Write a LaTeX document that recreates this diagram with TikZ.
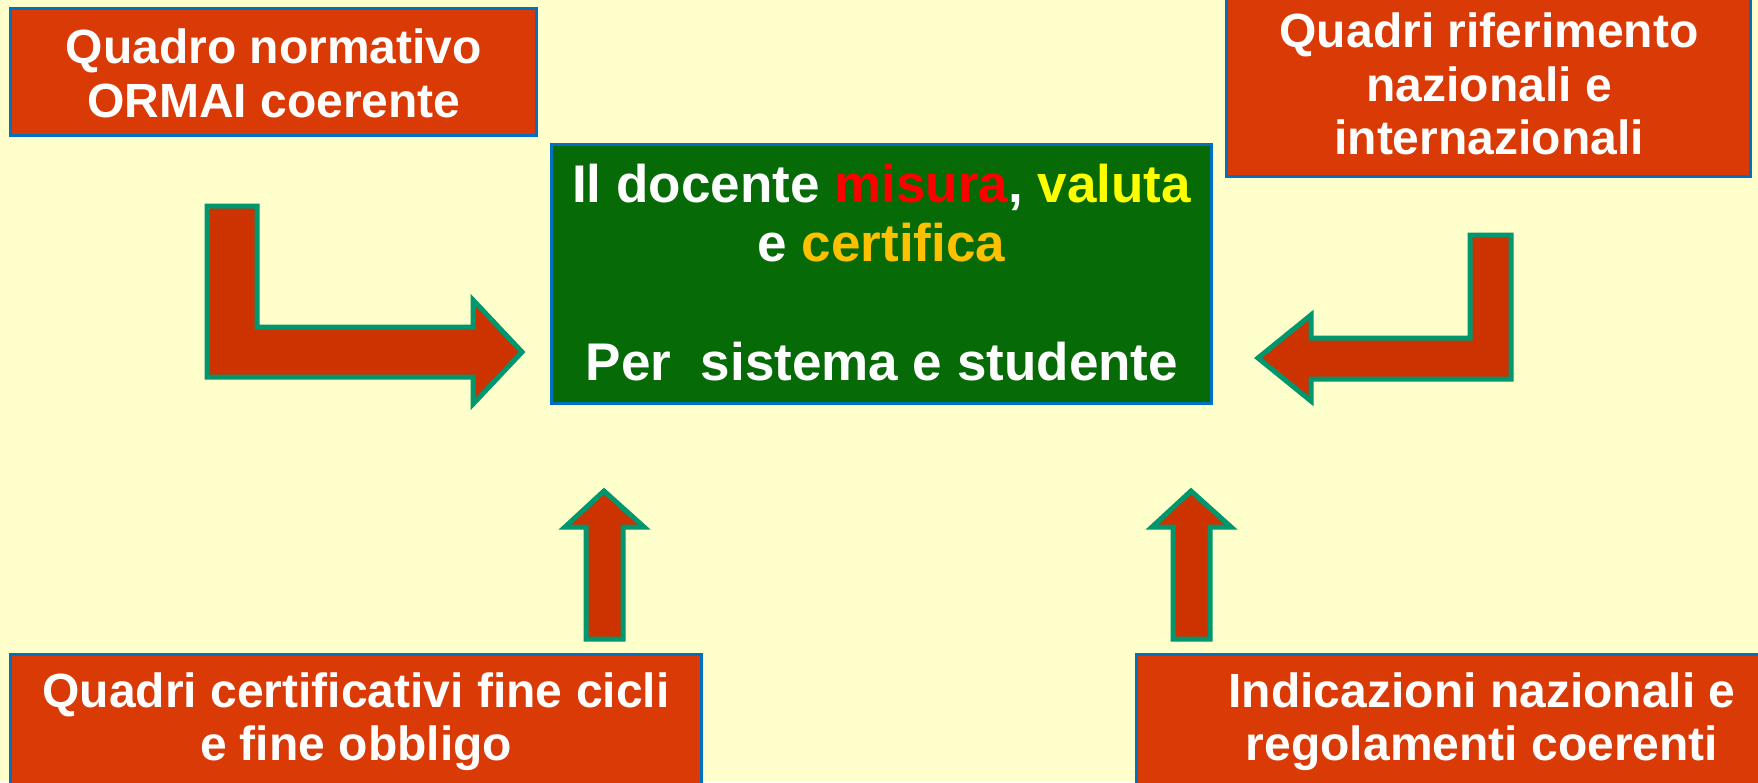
\documentclass[tikz,border=0pt]{standalone}
\usepackage{fontspec}
\setmainfont{Liberation Sans}
\definecolor{bgyellow}{RGB}{255,255,204}
\definecolor{boxfill}{RGB}{218,58,6}
\definecolor{boxline}{RGB}{0,112,192}
\definecolor{arrfill}{RGB}{204,51,0}
\definecolor{arrline}{RGB}{0,150,110}
\definecolor{greenfill}{RGB}{6,106,6}
\definecolor{txtred}{RGB}{255,0,0}
\definecolor{txtyellow}{RGB}{255,255,0}
\definecolor{txtgold}{RGB}{255,192,0}
\begin{document}
\begin{tikzpicture}[x=1pt,y=-1pt,
  redbox/.style={draw=boxline, line width=3pt, fill=boxfill, inner sep=0pt, outer sep=0pt, rectangle},
  greenbox/.style={draw=boxline, line width=3pt, fill=greenfill, inner sep=0pt, outer sep=0pt, rectangle},
  boxtext/.style={anchor=base, inner sep=0pt, text=white, font=\fontsize{48}{54}\selectfont\bfseries},
  maintext/.style={anchor=base, inner sep=0pt, text=white, font=\fontsize{53}{59}\selectfont\bfseries},
  blockarrow/.style={draw=arrline, line width=5pt, fill=arrfill, line join=miter}]
\useasboundingbox (0,0) rectangle (1758,782);
\clip (0,0) rectangle (1758,782);
\fill[bgyellow] (0,0) rectangle (1758,782);

% boxes
\node[redbox, minimum width=526pt, minimum height=127pt] (q1) at (273.5,72) {};
\node[redbox, minimum width=524pt, minimum height=196pt] (q2) at (1488.5,78) {};
\node[greenbox, minimum width=660pt, minimum height=259pt] (c) at (881.5,274) {};
\node[redbox, minimum width=691pt, minimum height=166pt] (q3) at (356,737.5) {};
\node[redbox, minimum width=694pt, minimum height=166pt] (q4) at (1483.5,737.5) {};

% texts
\node[boxtext] (q1a) at (274,63) {Quadro normativo};
\node[boxtext] (q1b) at (274,117) {ORMAI coerente};

\node[boxtext] (q2a) at (1489,47) {Quadri riferimento};
\node[boxtext] (q2b) at (1489,101) {nazionali e};
\node[boxtext] (q2c) at (1489,154) {internazionali};

\node[boxtext] (q3a) at (356,707) {Quadri certificativi fine cicli};
\node[boxtext] (q3b) at (356,760) {e fine obbligo};

\node[boxtext] (q4a) at (1482,707) {Indicazioni nazionali e};
\node[boxtext] (q4b) at (1482,760) {regolamenti coerenti};

\node[maintext] (ca) at (881.5,202) {Il docente \textcolor{txtred}{misura}, \textcolor{txtyellow}{valuta}};
\node[maintext] (cb) at (881.5,261) {e \textcolor{txtgold}{certifica}};
\node[maintext] (cc) at (882,380) {Per\ \ sistema e studente};

% block arrows
\draw[blockarrow] (207,206) -- (257,206) -- (257,327) -- (473,327) -- (473,300)
  -- (522,352) -- (473,404) -- (473,377) -- (207,377) -- cycle;
\draw[blockarrow] (1511,235) -- (1511,379) -- (1311,379) -- (1311,401)
  -- (1258,358) -- (1311,315) -- (1311,338) -- (1470,338) -- (1470,235) -- cycle;
\draw[blockarrow] (586,639) -- (586,527) -- (565,527) -- (604,491) -- (644,527)
  -- (623,527) -- (623,639) -- cycle;
\draw[blockarrow] (1173,639) -- (1173,527) -- (1152,527) -- (1191,491) -- (1231,527)
  -- (1210,527) -- (1210,639) -- cycle;
\end{tikzpicture}
\end{document}
